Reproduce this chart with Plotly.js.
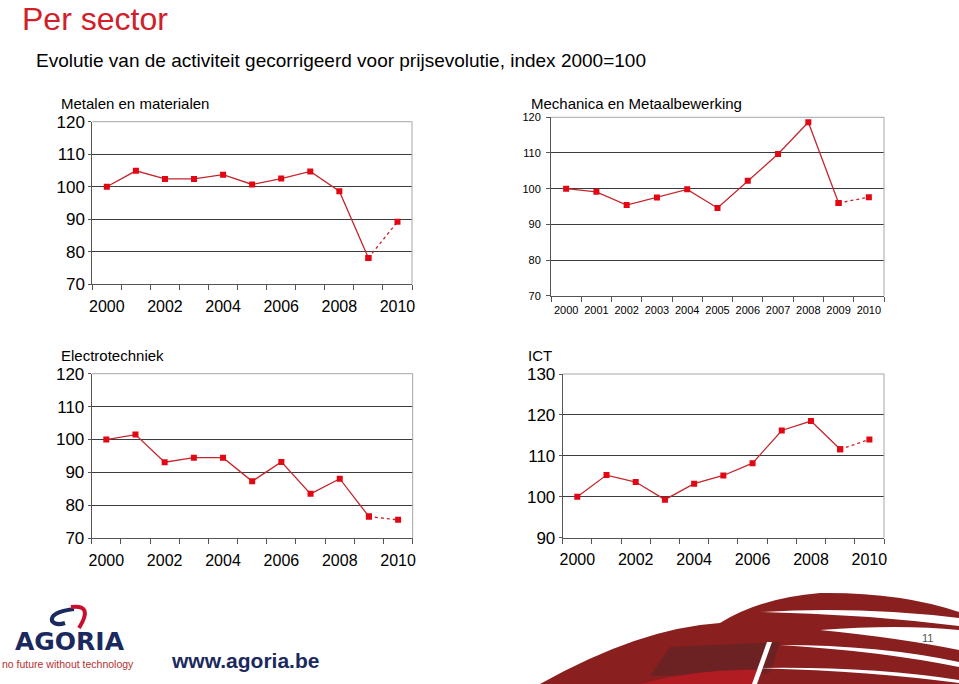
<!DOCTYPE html>
<html>
<head>
<meta charset="utf-8">
<script src="https://cdn.plot.ly/plotly-3.0.1.min.js"></script>
<style>
  html, body { margin: 0; padding: 0; background: #fff; }
  #chart { width: 959px; height: 684px; }
</style>
</head>
<body>
<div id="chart"></div>
<script>
// data (index 2000 = 100)
var years = [2000, 2001, 2002, 2003, 2004, 2005, 2006, 2007, 2008, 2009, 2010];
var metalen = [100, 104.9, 102.4, 102.4, 103.7, 100.7, 102.5, 104.7, 98.6, 78.1, 89.2];
var mechanica = [100, 99.1, 95.4, 97.5, 99.8, 94.6, 102.2, 109.7, 118.6, 96.0, 97.6];
var electro = [100, 101.5, 93.1, 94.5, 94.5, 87.3, 93.2, 83.5, 88.1, 76.6, 75.6];
var ict = [100, 105.3, 103.6, 99.3, 103.2, 105.2, 108.2, 116.2, 118.5, 111.6, 114.0];

var titles = ['Metalen en materialen', 'Mechanica en Metaalbewerking', 'Electrotechniek', 'ICT'];
var evenYears = [2000, 2002, 2004, 2006, 2008, 2010];

var W = 959, H = 684;
function px(x) { return x / W; }
function py(y) { return 1 - y / H; }

var lineRed = '#c4262e';
var markRed = '#e30613';

// plot boxes in page pixels [left, right, top, bottom]
var boxes = [
    [92.3, 412, 121.7, 284.3],
    [551, 884, 117.3, 295.7],
    [91.7, 412.7, 373.7, 538.3],
    [562.7, 884, 374, 537.7]
];

var series = [metalen, mechanica, electro, ict];
var yRanges = [[70, 120], [70, 120], [70, 120], [90, 130]];
var big = 16, small = 11;
var tickFont = [big, small, big, big];

var data = [];
series.forEach(function (s, i) {
    var n = i === 0 ? '' : String(i + 1);
    // solid part up to 2009
    data.push({
        x: years.slice(0, 10), y: s.slice(0, 10),
        xaxis: 'x' + n, yaxis: 'y' + n,
        type: 'scatter', mode: 'lines+markers',
        line: {color: lineRed, width: 1.3},
        marker: {symbol: 'square', size: 6, color: markRed},
        hoverinfo: 'x+y', showlegend: false
    });
    // forecast 2009-2010 dotted
    data.push({
        x: years.slice(9), y: s.slice(9),
        xaxis: 'x' + n, yaxis: 'y' + n,
        type: 'scatter', mode: 'lines+markers',
        line: {color: lineRed, width: 1.3, dash: 'dot'},
        marker: {symbol: 'square', size: 6, color: markRed},
        hoverinfo: 'x+y', showlegend: false
    });
});

var layout = {
    width: W,
    height: H,
    margin: {l: 0, r: 0, t: 0, b: 0},
    paper_bgcolor: '#ffffff',
    plot_bgcolor: '#ffffff',
    font: {family: 'Liberation Sans, Arial, sans-serif', color: '#000'},
    shapes: [],
    annotations: [],
    images: []
};

boxes.forEach(function (b, i) {
    var n = i === 0 ? '' : String(i + 1);
    var fs = tickFont[i];
    layout['xaxis' + n] = {
        domain: [px(b[0]), px(b[1])],
        anchor: 'y' + n,
        range: [1999.5, 2010.5],
        tickvals: i === 1 ? years : evenYears,
        ticktext: (i === 1 ? years : evenYears).map(String),
        ticks: '',
        ticklabelstandoff: i === 1 ? 4 : 7,
        minor: {tick0: 1999.5, dtick: 1, ticks: 'outside', ticklen: 5, tickcolor: '#555', showgrid: false},
        showgrid: false,
        zeroline: false,
        showline: true,
        linecolor: '#555',
        linewidth: 1,
        tickfont: {size: fs},
        fixedrange: true
    };
    layout['yaxis' + n] = {
        domain: [py(b[3]), py(b[2])],
        anchor: 'x' + n,
        range: yRanges[i],
        dtick: 10,
        ticks: 'outside',
        ticklen: i === 1 ? 4 : 3,
        tickcolor: '#555',
        ticklabelstandoff: i === 1 ? 3 : 0,
        showgrid: true,
        gridcolor: '#3c3c3c',
        gridwidth: 1,
        zeroline: false,
        showline: true,
        linecolor: '#555',
        linewidth: 1,
        tickfont: {size: i === 1 ? small : 17},
        fixedrange: true
    };
    // light grey top and right border of the plot box
    layout.shapes.push({
        type: 'path', xref: 'paper', yref: 'paper', layer: 'above',
        path: 'M ' + px(b[0]) + ' ' + py(b[2]) + ' L ' + px(b[1]) + ' ' + py(b[2]) +
              ' L ' + px(b[1]) + ' ' + py(b[3]),
        line: {color: '#a6a6a6', width: 1}
    });
    layout.annotations.push({
        text: titles[i], xref: 'paper', yref: 'paper',
        x: px(i % 2 === 0 ? 59 : (i === 1 ? 529 : 526)), y: py(i < 2 ? 103 : 355),
        xanchor: 'left', yanchor: 'middle', showarrow: false,
        font: {size: 15, color: '#000'}
    });
});

// slide header
layout.annotations.push({
    text: 'Per sector', xref: 'paper', yref: 'paper', x: px(20), y: py(19),
    xanchor: 'left', yanchor: 'middle', showarrow: false,
    font: {size: 32, color: '#d0202a'}
});
layout.annotations.push({
    text: 'Evolutie van de activiteit gecorrigeerd voor prijsevolutie, index 2000=100',
    xref: 'paper', yref: 'paper', x: px(34), y: py(60),
    xanchor: 'left', yanchor: 'middle', showarrow: false,
    font: {size: 19, color: '#000'}
});

// footer
layout.annotations.push({
    text: '<b>AGORIA</b>', xref: 'paper', yref: 'paper', x: px(70), y: py(641),
    xanchor: 'center', yanchor: 'middle', showarrow: false,
    font: {size: 25, color: '#1b2a5e', family: 'DejaVu Sans, Liberation Sans, sans-serif'}
});
layout.annotations.push({
    text: 'no future without technology', xref: 'paper', yref: 'paper', x: px(0), y: py(664),
    xanchor: 'left', yanchor: 'middle', showarrow: false,
    font: {size: 10.5, color: '#b5302f'}
});
layout.annotations.push({
    text: '<b>www.agoria.be</b>', xref: 'paper', yref: 'paper', x: px(169), y: py(660),
    xanchor: 'left', yanchor: 'middle', showarrow: false,
    font: {size: 21, color: '#1b2a5e'}
});

// decorative swoosh and logo mark, drawn as an svg image in page pixels
var deco = '<svg xmlns="http://www.w3.org/2000/svg" width="959" height="684" viewBox="0 0 959 684">' +
    '<path d="M 74 609 Q 50 612 52 621 Q 56 626 65 623" fill="none" stroke="#1b2a5e" stroke-width="4"/>' +
    '<path d="M 71 607 Q 94 604 79 628" fill="none" stroke="#c8102e" stroke-width="4"/>' +
    '<path d="M 540 684 Q 640 628 720 623 Q 760 598 820 593 Q 900 592 959 612 L 959 684 Z" fill="#8a1f1f"/>' +
    '<path d="M 670 647 L 780 642 L 770 673 L 650 676 Z" fill="#6c2222"/>' +
    '<path d="M 640 684 Q 700 668 760 670 L 756 684 Z" fill="#b01c22"/>' +
    '<path d="M 760 612 Q 860 606 959 618 L 959 626 Q 860 614 760 612 Z" fill="#fff"/>' +
    '<path d="M 820 630 Q 900 624 959 630 L 959 650 Q 900 638 820 630 Z" fill="#fff"/>' +
    '<path d="M 780 645 Q 880 645 959 662 L 959 667 Q 880 651 780 645 Z" fill="#fff"/>' +
    '<path d="M 755 668 Q 870 666 959 680 L 959 683 Q 870 671 755 668 Z" fill="#fff"/>' +
    '<path d="M 767 642 L 772 642 L 757 684 L 752 684 Z" fill="#fff"/>' +
    '</svg>';
layout.images.push({
    source: 'data:image/svg+xml;charset=utf-8,' + encodeURIComponent(deco),
    xref: 'paper', yref: 'paper', x: 0, y: 1, sizex: 1, sizey: 1,
    xanchor: 'left', yanchor: 'top', sizing: 'stretch', layer: 'below'
});
layout.annotations.push({
    text: '11', xref: 'paper', yref: 'paper', x: px(927), y: py(638),
    xanchor: 'center', yanchor: 'middle', showarrow: false,
    font: {size: 11, color: '#555'}
});

Plotly.newPlot('chart', data, layout, {displayModeBar: false, staticPlot: true});
</script>
</body>
</html>
